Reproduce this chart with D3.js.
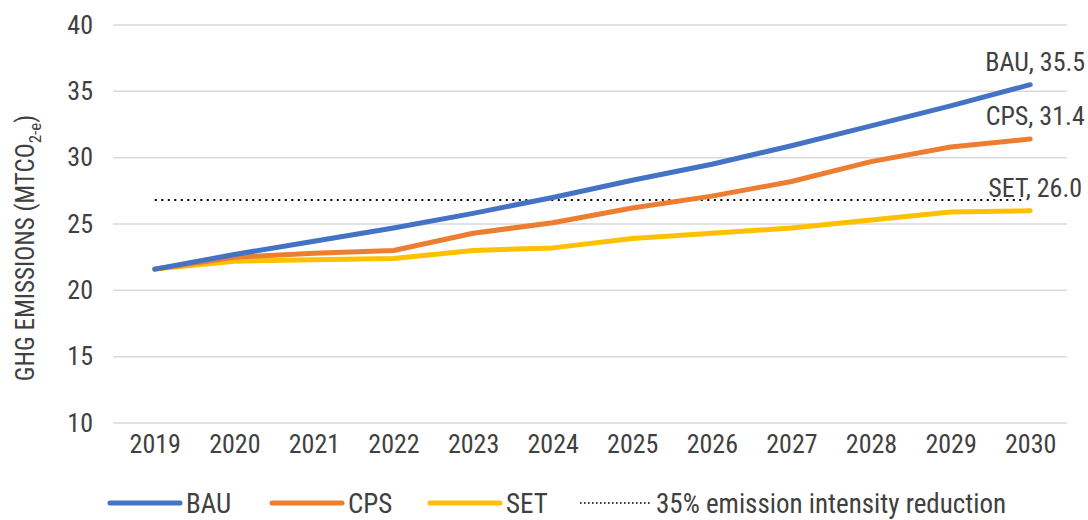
<!DOCTYPE html>
<html>
<head>
<meta charset="utf-8">
<script src="https://cdn.jsdelivr.net/npm/d3@7"></script>
<style>
  body { margin: 0; background: #fff; }
  svg text { font-family: "Roboto Condensed", Roboto, "Liberation Sans Narrow", sans-serif; fill: #404040; }
</style>
</head>
<body>
<div id="chart"></div>
<script>
const years = ["2019", "2020", "2021", "2022", "2023", "2024", "2025", "2026", "2027", "2028", "2029", "2030"];
const bau = [21.6, 22.7, 23.7, 24.7, 25.8, 27.0, 28.3, 29.5, 30.9, 32.4, 33.9, 35.5];
const cps = [21.6, 22.5, 22.8, 23.0, 24.3, 25.1, 26.2, 27.1, 28.2, 29.7, 30.8, 31.4];
const set = [21.6, 22.2, 22.3, 22.4, 23.0, 23.2, 23.9, 24.3, 24.7, 25.3, 25.9, 26.0];
const target = 26.8;
const yTicks = [10, 15, 20, 25, 30, 35, 40];
const seriesNames = ["BAU", "CPS", "SET"];
const targetLabel = "35% emission intensity reduction";

const width = 1088;
const height = 520;
const margin = { top: 25, right: 18, bottom: 99, left: 115 };
const colors = { BAU: "#4472C4", CPS: "#ED7D31", SET: "#FFC000", grid: "#d9d9d9" };

const series = [
  { name: seriesNames[0], values: bau },
  { name: seriesNames[1], values: cps },
  { name: seriesNames[2], values: set },
];

const svg = d3
  .select("#chart")
  .append("svg")
  .attr("width", width)
  .attr("height", height);

const x = d3
  .scalePoint()
  .domain(years)
  .range([margin.left, width - margin.right])
  .padding(0.5);

const y = d3
  .scaleLinear()
  .domain([10, 40])
  .range([height - margin.bottom + 2, margin.top]);

// Gridlines
svg
  .append("g")
  .selectAll("line")
  .data(yTicks)
  .join("line")
  .attr("x1", margin.left - 2)
  .attr("x2", width - margin.right - 3)
  .attr("y1", (d) => y(d))
  .attr("y2", (d) => y(d))
  .attr("stroke", colors.grid)
  .attr("stroke-width", 1.5);

// Y axis
const yAxis = svg
  .append("g")
  .attr("transform", `translate(${margin.left - 22},0)`)
  .call(d3.axisLeft(y).tickValues(yTicks).tickSize(0).tickPadding(0));
yAxis.select(".domain").remove();
yAxis.selectAll("text").style("font-size", "26px").attr("fill", "#404040");

// X axis
const xAxis = svg
  .append("g")
  .attr("transform", `translate(0,${y(10) + 12})`)
  .call(d3.axisBottom(x).tickSize(0).tickPadding(0));
xAxis.select(".domain").remove();
xAxis.selectAll("text").style("font-size", "26px").attr("fill", "#404040");

// Y axis title
const yTitle = svg
  .append("text")
  .attr("transform", `translate(34,${(y(40) + y(10)) / 2 + 24}) rotate(-90)`)
  .attr("text-anchor", "middle")
  .style("font-size", "25px");
yTitle.append("tspan").text("GHG EMISSIONS (MTCO");
yTitle.append("tspan").attr("dy", 7).style("font-size", "17px").text("2-e");
yTitle.append("tspan").attr("dy", -7).text(")");

// Target line
svg
  .append("line")
  .attr("x1", x(years[0]))
  .attr("x2", x(years[years.length - 1]) - 5)
  .attr("y1", y(target))
  .attr("y2", y(target))
  .attr("stroke", "#000")
  .attr("stroke-width", 2)
  .attr("stroke-dasharray", "2,4.5");

const line = d3
  .line()
  .x((d, i) => x(years[i]))
  .y((d) => y(d));

// Series lines (SET under CPS under BAU)
series
  .slice()
  .reverse()
  .forEach((s) => {
    svg
      .append("path")
      .datum(s.values)
      .attr("fill", "none")
      .attr("stroke", colors[s.name])
      .attr("stroke-width", 5)
      .attr("stroke-linecap", "round")
      .attr("stroke-linejoin", "round")
      .attr("d", line);
  });

// End labels
series.forEach((s) => {
  const last = s.values[s.values.length - 1];
  svg
    .append("text")
    .attr("x", x(years[years.length - 1]) + 5)
    .attr("y", y(last) - 14)
    .attr("text-anchor", "middle")
    .style("font-size", "26px")
    .text(`${s.name}, ${last.toFixed(1)}`);
});

// Legend
const legendY = 503;
const legendItems = [
  { label: seriesNames[0], x: 110, color: colors.BAU, dash: null },
  { label: seriesNames[1], x: 272, color: colors.CPS, dash: null },
  { label: seriesNames[2], x: 430, color: colors.SET, dash: null },
  { label: targetLabel, x: 580, color: "#000", dash: "1.6,2.4" },
];
const legend = svg.append("g");
legendItems.forEach((item) => {
  legend
    .append("line")
    .attr("x1", item.x)
    .attr("x2", item.x + 70)
    .attr("y1", legendY)
    .attr("y2", legendY)
    .attr("stroke", item.color)
    .attr("stroke-width", item.dash ? 1.6 : 5)
    .attr("stroke-linecap", item.dash ? "butt" : "round")
    .attr("stroke-dasharray", item.dash);
  legend
    .append("text")
    .attr("x", item.x + 76)
    .attr("y", legendY + 10)
    .style("font-size", "27px")
    .text(item.label);
});
</script>
</body>
</html>
